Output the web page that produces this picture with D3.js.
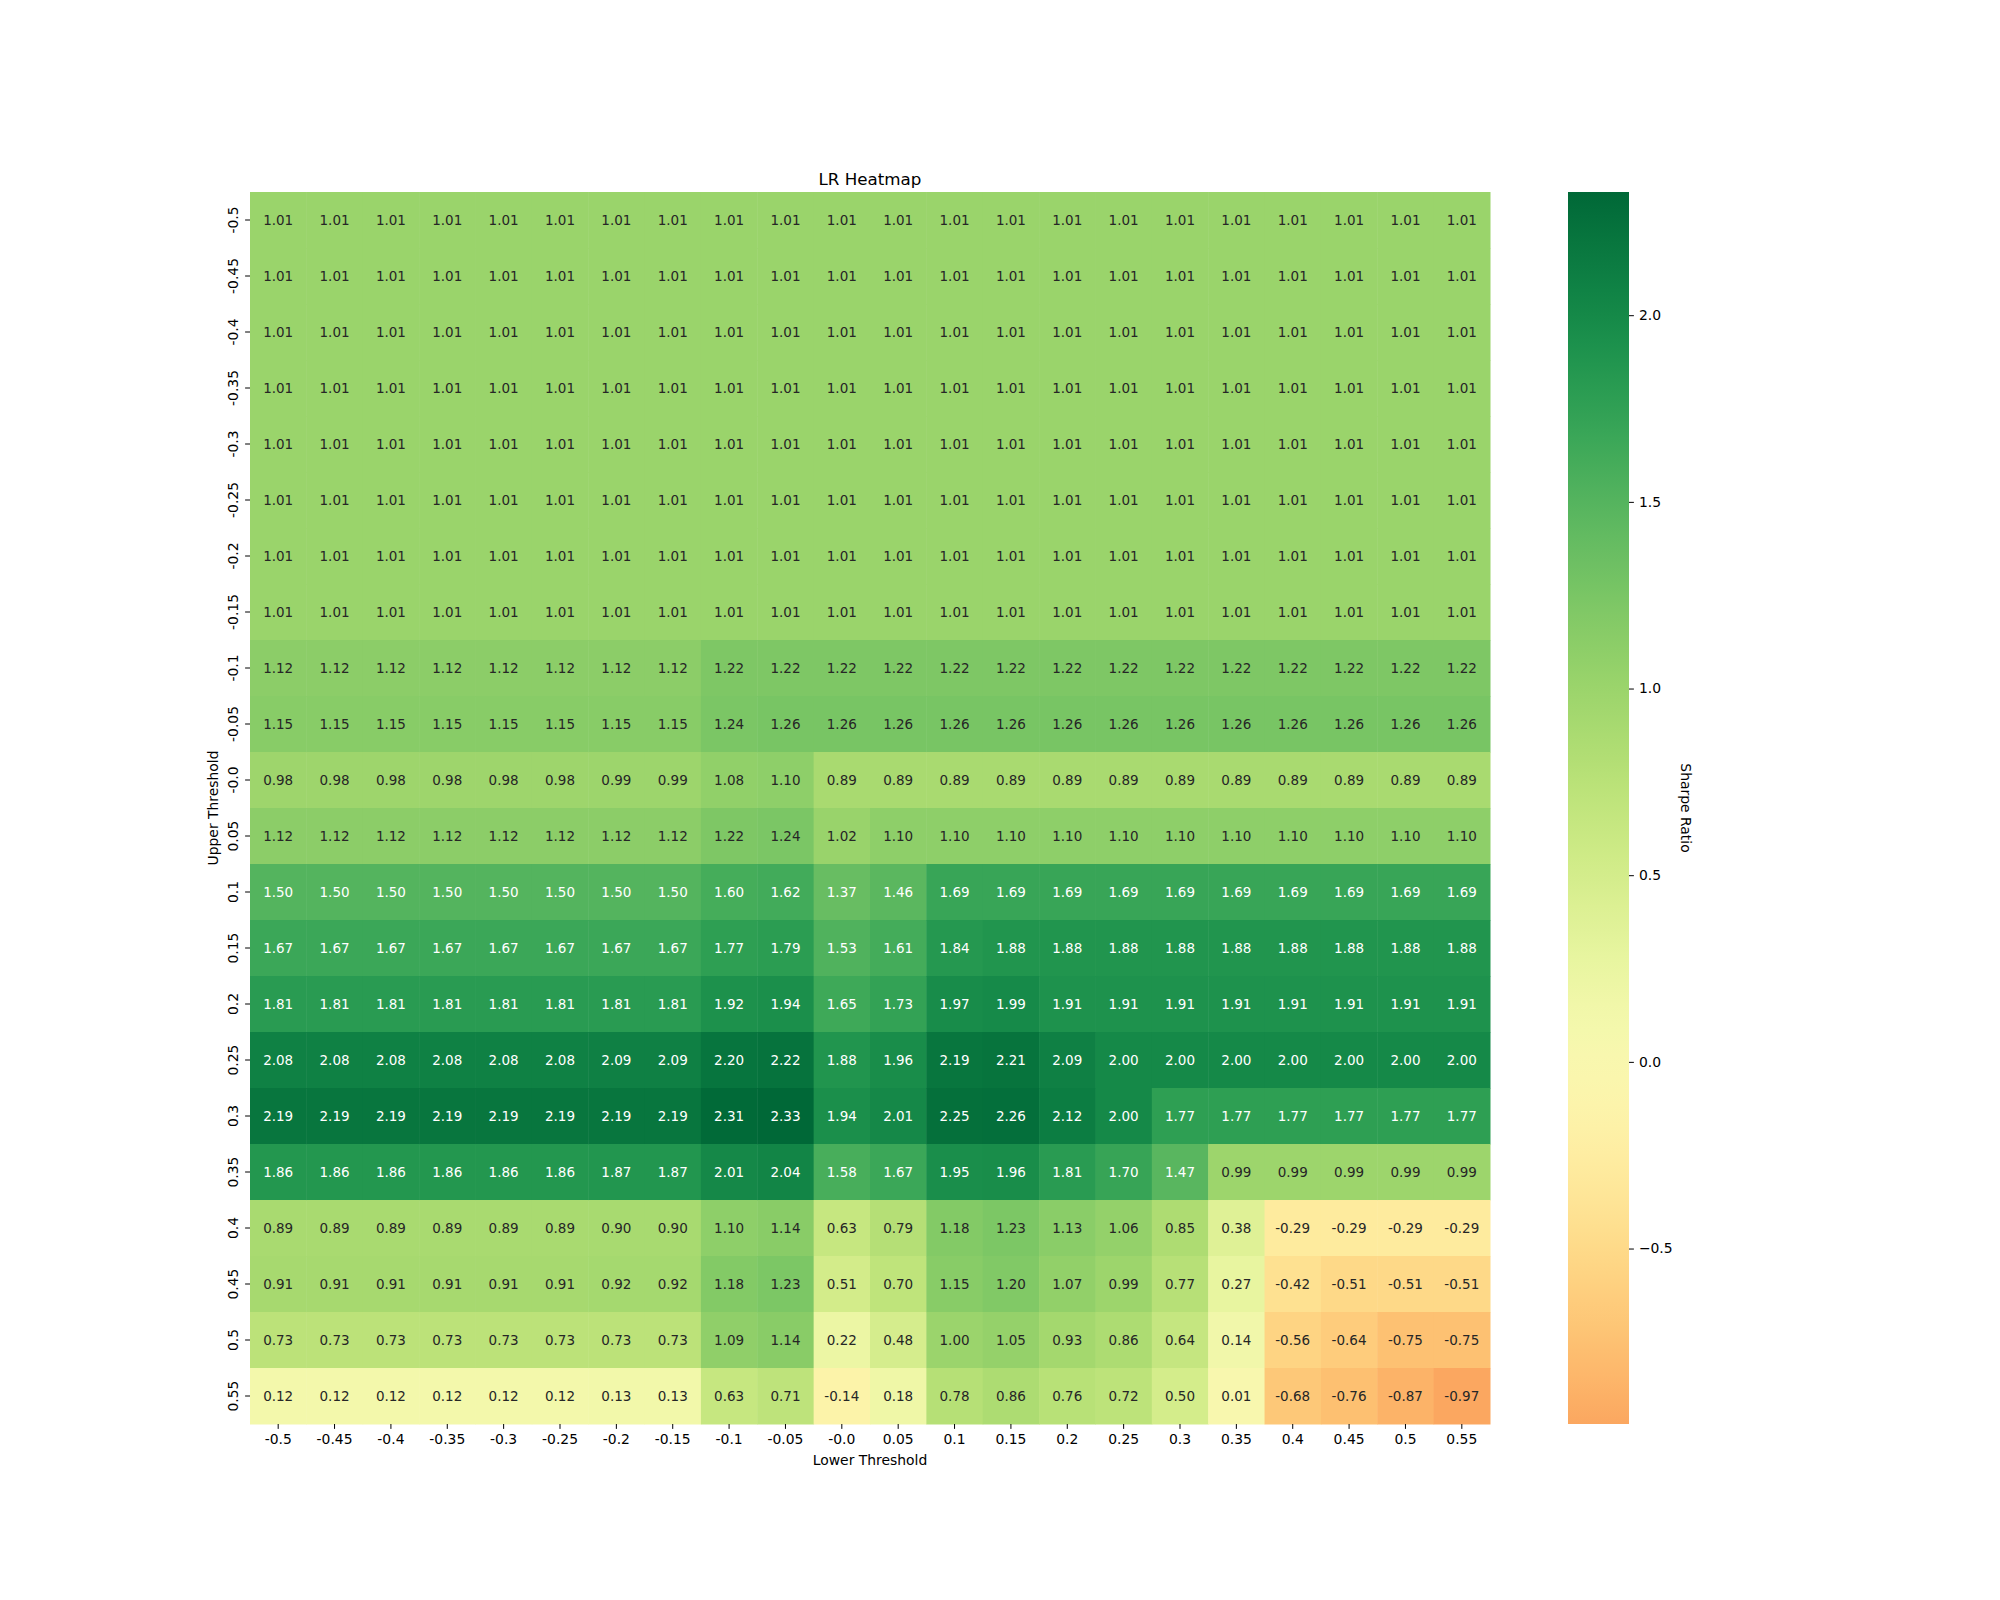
<!DOCTYPE html>
<html><head><meta charset="utf-8">
<script src="https://cdn.jsdelivr.net/npm/d3@7"></script>
<style>body{margin:0;background:#fff}text{font-family:"DejaVu Sans",sans-serif}</style>
</head><body><svg id="c" width="2000" height="1600"></svg>
<script>
const lowerLabels=["-0.5","-0.45","-0.4","-0.35","-0.3","-0.25","-0.2","-0.15","-0.1","-0.05","-0.0","0.05","0.1","0.15","0.2","0.25","0.3","0.35","0.4","0.45","0.5","0.55"];
const upperLabels=["-0.5","-0.45","-0.4","-0.35","-0.3","-0.25","-0.2","-0.15","-0.1","-0.05","-0.0","0.05","0.1","0.15","0.2","0.25","0.3","0.35","0.4","0.45","0.5","0.55"];
const values=[
[1.01,1.01,1.01,1.01,1.01,1.01,1.01,1.01,1.01,1.01,1.01,1.01,1.01,1.01,1.01,1.01,1.01,1.01,1.01,1.01,1.01,1.01],
[1.01,1.01,1.01,1.01,1.01,1.01,1.01,1.01,1.01,1.01,1.01,1.01,1.01,1.01,1.01,1.01,1.01,1.01,1.01,1.01,1.01,1.01],
[1.01,1.01,1.01,1.01,1.01,1.01,1.01,1.01,1.01,1.01,1.01,1.01,1.01,1.01,1.01,1.01,1.01,1.01,1.01,1.01,1.01,1.01],
[1.01,1.01,1.01,1.01,1.01,1.01,1.01,1.01,1.01,1.01,1.01,1.01,1.01,1.01,1.01,1.01,1.01,1.01,1.01,1.01,1.01,1.01],
[1.01,1.01,1.01,1.01,1.01,1.01,1.01,1.01,1.01,1.01,1.01,1.01,1.01,1.01,1.01,1.01,1.01,1.01,1.01,1.01,1.01,1.01],
[1.01,1.01,1.01,1.01,1.01,1.01,1.01,1.01,1.01,1.01,1.01,1.01,1.01,1.01,1.01,1.01,1.01,1.01,1.01,1.01,1.01,1.01],
[1.01,1.01,1.01,1.01,1.01,1.01,1.01,1.01,1.01,1.01,1.01,1.01,1.01,1.01,1.01,1.01,1.01,1.01,1.01,1.01,1.01,1.01],
[1.01,1.01,1.01,1.01,1.01,1.01,1.01,1.01,1.01,1.01,1.01,1.01,1.01,1.01,1.01,1.01,1.01,1.01,1.01,1.01,1.01,1.01],
[1.12,1.12,1.12,1.12,1.12,1.12,1.12,1.12,1.22,1.22,1.22,1.22,1.22,1.22,1.22,1.22,1.22,1.22,1.22,1.22,1.22,1.22],
[1.15,1.15,1.15,1.15,1.15,1.15,1.15,1.15,1.24,1.26,1.26,1.26,1.26,1.26,1.26,1.26,1.26,1.26,1.26,1.26,1.26,1.26],
[0.98,0.98,0.98,0.98,0.98,0.98,0.99,0.99,1.08,1.10,0.89,0.89,0.89,0.89,0.89,0.89,0.89,0.89,0.89,0.89,0.89,0.89],
[1.12,1.12,1.12,1.12,1.12,1.12,1.12,1.12,1.22,1.24,1.02,1.10,1.10,1.10,1.10,1.10,1.10,1.10,1.10,1.10,1.10,1.10],
[1.50,1.50,1.50,1.50,1.50,1.50,1.50,1.50,1.60,1.62,1.37,1.46,1.69,1.69,1.69,1.69,1.69,1.69,1.69,1.69,1.69,1.69],
[1.67,1.67,1.67,1.67,1.67,1.67,1.67,1.67,1.77,1.79,1.53,1.61,1.84,1.88,1.88,1.88,1.88,1.88,1.88,1.88,1.88,1.88],
[1.81,1.81,1.81,1.81,1.81,1.81,1.81,1.81,1.92,1.94,1.65,1.73,1.97,1.99,1.91,1.91,1.91,1.91,1.91,1.91,1.91,1.91],
[2.08,2.08,2.08,2.08,2.08,2.08,2.09,2.09,2.20,2.22,1.88,1.96,2.19,2.21,2.09,2.00,2.00,2.00,2.00,2.00,2.00,2.00],
[2.19,2.19,2.19,2.19,2.19,2.19,2.19,2.19,2.31,2.33,1.94,2.01,2.25,2.26,2.12,2.00,1.77,1.77,1.77,1.77,1.77,1.77],
[1.86,1.86,1.86,1.86,1.86,1.86,1.87,1.87,2.01,2.04,1.58,1.67,1.95,1.96,1.81,1.70,1.47,0.99,0.99,0.99,0.99,0.99],
[0.89,0.89,0.89,0.89,0.89,0.89,0.90,0.90,1.10,1.14,0.63,0.79,1.18,1.23,1.13,1.06,0.85,0.38,-0.29,-0.29,-0.29,-0.29],
[0.91,0.91,0.91,0.91,0.91,0.91,0.92,0.92,1.18,1.23,0.51,0.70,1.15,1.20,1.07,0.99,0.77,0.27,-0.42,-0.51,-0.51,-0.51],
[0.73,0.73,0.73,0.73,0.73,0.73,0.73,0.73,1.09,1.14,0.22,0.48,1.00,1.05,0.93,0.86,0.64,0.14,-0.56,-0.64,-0.75,-0.75],
[0.12,0.12,0.12,0.12,0.12,0.12,0.13,0.13,0.63,0.71,-0.14,0.18,0.78,0.86,0.76,0.72,0.50,0.01,-0.68,-0.76,-0.87,-0.97]
];
const cbTicks=[-0.5,0,0.5,1,1.5,2];

const svg=d3.select("#c");
const L=250,R=1490,T=192,B=1424;
const x=d3.scaleBand().domain(lowerLabels).range([L,R]);
const y=d3.scaleBand().domain(upperLabels).range([T,B]);
const all=values.flat();
const vmin=d3.min(all),vmax=d3.max(all);
const span=Math.max(Math.abs(vmin),Math.abs(vmax));
const col=v=>d3.interpolateRdYlGn((Math.max(-span,Math.min(span,v))+span)/(2*span));
const lum=c=>{const r=d3.rgb(c);const f=u=>{u/=255;return u<=0.03928?u/12.92:Math.pow((u+0.055)/1.055,2.4)};return 0.2126*f(r.r)+0.7152*f(r.g)+0.0722*f(r.b);};

const cells=[];
values.forEach((row,i)=>row.forEach((v,j)=>cells.push({i,j,v})));
const g=svg.append("g");
g.selectAll("rect").data(cells).join("rect")
 .attr("x",d=>x(lowerLabels[d.j])).attr("y",d=>y(upperLabels[d.i]))
 .attr("width",x.bandwidth()+0.5).attr("height",y.bandwidth()+0.5)
 .attr("fill",d=>col(d.v));
g.selectAll("text").data(cells).join("text")
 .attr("x",d=>x(lowerLabels[d.j])+x.bandwidth()/2).attr("y",d=>y(upperLabels[d.i])+y.bandwidth()/2)
 .attr("text-anchor","middle").attr("dominant-baseline","central").attr("font-size",13.5)
 .attr("fill",d=>lum(col(d.v))>0.408?"#262626":"#ffffff")
 .text(d=>d.v.toFixed(2));

const xa=svg.append("g").attr("transform",`translate(0,${B})`).call(d3.axisBottom(x).tickSize(4.9).tickPadding(5));
xa.select(".domain").remove();
xa.selectAll("text").attr("font-size",13.9).attr("font-family","DejaVu Sans").attr("fill","#000");
const ya=svg.append("g").attr("transform",`translate(${L},0)`).call(d3.axisLeft(y).tickSize(4.9).tickPadding(5));
ya.select(".domain").remove();
ya.selectAll(".tick text").attr("font-size",13.9).attr("font-family","DejaVu Sans").attr("fill","#000")
 .attr("text-anchor","middle").attr("x",0).attr("y",0).attr("transform","translate(-17,0) rotate(-90)").attr("dy","0.35em");

svg.append("text").attr("x",(L+R)/2).attr("y",185).attr("text-anchor","middle").attr("font-size",16.7).text("LR Heatmap");
svg.append("text").attr("x",(L+R)/2).attr("y",1465).attr("text-anchor","middle").attr("font-size",13.9).text("Lower Threshold");
svg.append("text").attr("transform",`translate(218,${(T+B)/2}) rotate(-90)`).attr("text-anchor","middle").attr("font-size",13.9).text("Upper Threshold");

// colorbar
const cx0=1568,cw=61;
const cy=d3.scaleLinear().domain([vmin,vmax]).range([B,T]);
const defs=svg.append("defs");
const grad=defs.append("linearGradient").attr("id","cb").attr("x1",0).attr("x2",0).attr("y1",1).attr("y2",0);
d3.range(0,1.0001,0.02).forEach(t=>{const v=vmin+t*(vmax-vmin);grad.append("stop").attr("offset",t).attr("stop-color",col(v));});
svg.append("rect").attr("x",cx0).attr("y",T).attr("width",cw).attr("height",B-T).attr("fill","url(#cb)");
const ca=svg.append("g").attr("transform",`translate(${cx0+cw},0)`).call(d3.axisRight(cy).tickValues(cbTicks).tickSize(4.9).tickPadding(5).tickFormat(d=>d3.format(".1f")(d).replace("-","\u2212")));
ca.select(".domain").remove();
ca.selectAll("text").attr("font-size",13.9).attr("font-family","DejaVu Sans").attr("fill","#000");
svg.append("text").attr("transform",`translate(1681,${(T+B)/2}) rotate(90)`).attr("text-anchor","middle").attr("font-size",13.9).text("Sharpe Ratio");
</script></body></html>
